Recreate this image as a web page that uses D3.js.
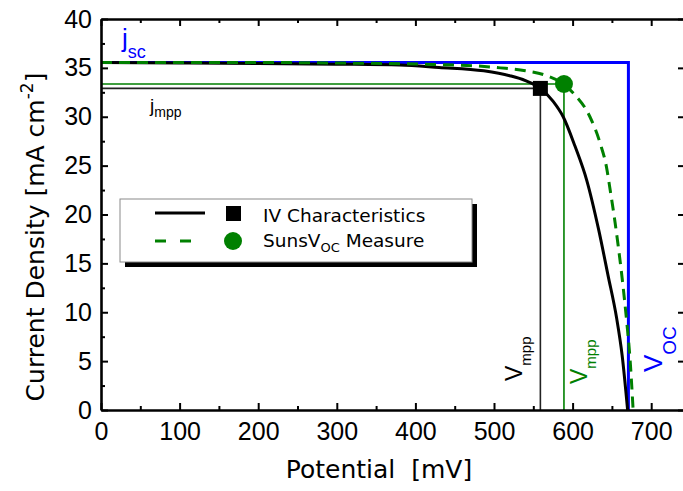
<!DOCTYPE html>
<html>
<head>
<meta charset="utf-8">
<script src="https://cdn.jsdelivr.net/npm/d3@7"></script>
<style>
  body { margin: 0; background: #fff; }
  #chart svg { display: block; }
</style>
</head>
<body>
<div id="chart"></div>
<script>
// IV curve vs SunsVoc chart

// values (potential in mV, current density in mA cm-2)
const ivPotential = [0, 100, 200, 300, 380, 430, 487, 520, 540, 559, 575, 588, 603, 618, 633, 645, 656, 663, 670];
const ivCurrent   = [35.55, 35.5, 35.45, 35.38, 35.3, 35.05, 34.7, 34.2, 33.7, 32.9, 31.6, 30.0, 27.0, 23.5, 18.5, 13.8, 9.4, 5.6, 0];

const sunsPotential = [0, 200, 300, 423, 478, 508, 540, 567, 588, 601, 622, 635, 643, 648, 654, 658, 663, 669, 673, 677];
const sunsCurrent   = [35.55, 35.55, 35.5, 35.35, 35.2, 35.0, 34.7, 34.2, 33.35, 32.4, 30.0, 27.3, 24.9, 22.4, 19.2, 16.8, 13.5, 8.9, 5.3, 0];

const mppIV   = [559, 32.9];
const mppSuns = [589, 33.35];
const jsc = 35.55;
const voc = 671;

const xMajor = [0, 100, 200, 300, 400, 500, 600, 700];
const xMinor = [50, 150, 250, 350, 450, 550, 650];
const yMajor = [0, 5, 10, 15, 20, 25, 30, 35, 40];
const yMinor = [2.5, 7.5, 12.5, 17.5, 22.5, 27.5, 32.5, 37.5];

const legendLabels = ["IV Characteristics", "SunsV"];

(function () {
  const W = 683, H = 491;
  const green = "#008000", blue = "#0000ff";
  const tickFont = "'Liberation Sans', Arial, sans-serif";
  const titleFont = "'DejaVu Sans', Verdana, sans-serif";

  const svg = d3.select("#chart").append("svg")
      .attr("width", W).attr("height", H);

  const x = d3.scaleLinear().domain([0, 743]).range([101, 685]);
  const y = d3.scaleLinear().domain([0, 40]).range([410, 19]);

  // reference lines for mpp / jsc / voc
  svg.append("path")
      .attr("d", d3.line()([[x(0), y(jsc)], [x(voc), y(jsc)], [x(voc), y(0)]]))
      .attr("fill", "none").attr("stroke", blue).attr("stroke-width", 3);

  svg.append("path")
      .attr("d", d3.line()([[x(0), y(mppSuns[1])], [x(mppSuns[0]), y(mppSuns[1])], [x(mppSuns[0]), y(0)]]))
      .attr("fill", "none").attr("stroke", green).attr("stroke-width", 1.6);

  svg.append("path")
      .attr("d", d3.line()([[x(0), y(mppIV[1])], [x(mppIV[0]), y(mppIV[1])], [x(mppIV[0]), y(0)]]))
      .attr("fill", "none").attr("stroke", "#222").attr("stroke-width", 1.6);

  // curves
  const line = d3.line().x(d => x(d[0])).y(d => y(d[1])).curve(d3.curveMonotoneX);

  svg.append("path")
      .datum(ivPotential.map((p, i) => [p, ivCurrent[i]]))
      .attr("d", line)
      .attr("fill", "none").attr("stroke", "#000").attr("stroke-width", 3);

  svg.append("path")
      .datum(sunsPotential.map((p, i) => [p, sunsCurrent[i]]))
      .attr("d", line)
      .attr("fill", "none").attr("stroke", green).attr("stroke-width", 3)
      .attr("stroke-dasharray", "11,7");

  // markers
  svg.append("rect")
      .attr("x", x(mppIV[0]) - 7.5).attr("y", y(mppIV[1]) - 7.5)
      .attr("width", 15).attr("height", 15).attr("fill", "#000");

  svg.append("circle")
      .attr("cx", x(mppSuns[0])).attr("cy", y(mppSuns[1])).attr("r", 9)
      .attr("fill", green);

  // axes
  const styleAxis = g => {
    g.attr("font-family", tickFont).attr("font-size", 25);
    g.select(".domain").attr("stroke-width", 2.6);
    g.selectAll(".tick line").attr("stroke-width", 2);
    g.selectAll(".tick text").attr("fill", "#000");
  };

  svg.append("g").attr("transform", "translate(0,410)")
      .call(d3.axisBottom(x).tickValues(xMajor).tickSize(-7).tickSizeOuter(0).tickPadding(12))
      .call(styleAxis);
  svg.append("g").attr("transform", "translate(0,410)")
      .call(d3.axisBottom(x).tickValues(xMinor).tickSize(-4).tickFormat(""))
      .call(g => g.select(".domain").remove())
      .call(g => g.selectAll(".tick line").attr("stroke-width", 2));

  svg.append("g").attr("transform", "translate(0,19)")
      .call(d3.axisTop(x).tickValues(xMajor).tickSize(-7).tickSizeOuter(0).tickFormat(""))
      .call(styleAxis);
  svg.append("g").attr("transform", "translate(0,19)")
      .call(d3.axisTop(x).tickValues(xMinor).tickSize(-4).tickFormat(""))
      .call(g => g.select(".domain").remove())
      .call(g => g.selectAll(".tick line").attr("stroke-width", 2));

  svg.append("g").attr("transform", "translate(101,0)")
      .call(d3.axisLeft(y).tickValues(yMajor).tickSize(-7).tickSizeOuter(0).tickPadding(9))
      .call(styleAxis);
  svg.append("g").attr("transform", "translate(101,0)")
      .call(d3.axisLeft(y).tickValues(yMinor).tickSize(-4).tickFormat(""))
      .call(g => g.select(".domain").remove())
      .call(g => g.selectAll(".tick line").attr("stroke-width", 2));

  svg.append("g").attr("transform", "translate(685,0)")
      .call(d3.axisRight(y).tickValues(yMajor).tickSize(-7).tickSizeOuter(0).tickFormat(""))
      .call(styleAxis);

  // axis titles
  svg.append("text")
      .attr("x", 379).attr("y", 478)
      .attr("text-anchor", "middle")
      .attr("font-family", titleFont).attr("font-size", 25)
      .style("white-space", "pre")
      .text("Potential  [mV]");

  const yt = svg.append("text")
      .attr("transform", "translate(44,237) rotate(-90)")
      .attr("text-anchor", "middle")
      .attr("font-family", titleFont).attr("font-size", 25);
  yt.append("tspan").text("Current Density [mA cm");
  yt.append("tspan").attr("dy", -11).attr("font-size", 17).text("-2");
  yt.append("tspan").attr("dy", 11).text("]");

  // annotations
  const jscT = svg.append("text").attr("x", 122).attr("y", 47)
      .attr("font-family", tickFont).attr("font-size", 26).attr("fill", blue);
  jscT.append("tspan").text("j");
  jscT.append("tspan").attr("dy", 11).attr("font-size", 18).text("sc");

  const jmppT = svg.append("text").attr("x", 150).attr("y", 112)
      .attr("font-family", tickFont).attr("font-size", 19).attr("fill", "#000");
  jmppT.append("tspan").text("j");
  jmppT.append("tspan").attr("dy", 5).attr("font-size", 14).text("mpp");

  const vLabel = (tx, ty, col, big, small, dy, sub) => {
    const t = svg.append("text")
        .attr("transform", `translate(${tx},${ty}) rotate(-90)`)
        .attr("font-family", tickFont).attr("font-size", big).attr("fill", col);
    t.append("tspan").text("V");
    t.append("tspan").attr("dy", dy).attr("font-size", small).text(sub);
  };
  vLabel(522, 381, "#000", 23, 15, 9, "mpp");
  vLabel(587, 384, green, 23, 15, 9, "mpp");
  vLabel(662, 372, blue, 26, 19, 14, "OC");

  // legend
  const lg = svg.append("g");
  lg.append("rect").attr("x", 125).attr("y", 204).attr("width", 352).attr("height", 63).attr("fill", "#000");
  lg.append("rect").attr("x", 120).attr("y", 199).attr("width", 352).attr("height", 63)
      .attr("fill", "#fff").attr("stroke", "#8a8a8a").attr("stroke-width", 1);

  lg.append("line").attr("x1", 155).attr("x2", 205).attr("y1", 213).attr("y2", 213)
      .attr("stroke", "#000").attr("stroke-width", 3);
  lg.append("line").attr("x1", 155).attr("x2", 205).attr("y1", 241).attr("y2", 241)
      .attr("stroke", green).attr("stroke-width", 3).attr("stroke-dasharray", "11,14");
  lg.append("rect").attr("x", 226).attr("y", 206).attr("width", 15).attr("height", 15).attr("fill", "#000");
  lg.append("circle").attr("cx", 233).attr("cy", 241).attr("r", 9).attr("fill", green);

  lg.append("text").attr("x", 263).attr("y", 222)
      .attr("font-family", titleFont).attr("font-size", 18.5).text(legendLabels[0]);
  const l2 = lg.append("text").attr("x", 263).attr("y", 247)
      .attr("font-family", titleFont).attr("font-size", 18.5);
  l2.append("tspan").text(legendLabels[1]);
  l2.append("tspan").attr("dy", 5).attr("font-size", 13).text("OC");
  l2.append("tspan").attr("dy", -5).text(" Measure");
})();
</script>
</body>
</html>
